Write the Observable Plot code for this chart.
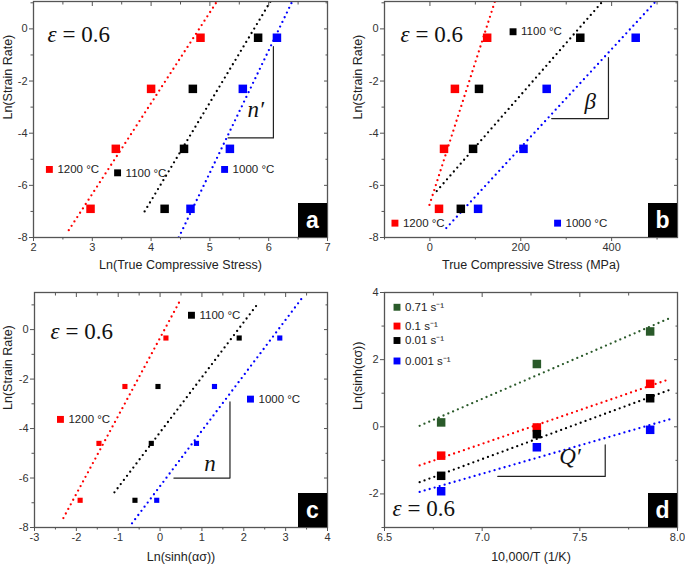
<!DOCTYPE html>
<html><head><meta charset="utf-8">
<script src="https://cdn.jsdelivr.net/npm/d3@7"></script>
<script src="https://cdn.jsdelivr.net/npm/@observablehq/plot@0.6"></script>
<style>
body{margin:0;background:#fff;}
#wrap{position:relative;width:685px;height:567px;overflow:hidden;}
.p{position:absolute;}
</style></head><body><div id="wrap"></div>
<script>
// ---------- data ----------
const tempLabels = ["1200 °C", "1100 °C", "1000 °C"];
const rateLabels = ["0.71 s⁻¹", "0.1 s⁻¹", "0.01 s⁻¹", "0.001 s⁻¹"];
const lnStrainRate = [-0.34, -2.3, -4.6, -6.9];

// panel a: Ln(true stress)
const aLnStress1200 = [4.84, 4.00, 3.40, 2.97];
const aLnStress1100 = [5.82, 4.71, 4.56, 4.23];
const aLnStress1000 = [6.14, 5.56, 5.34, 4.67];
const aFit1200 = [[2.60, -7.72], [5.12, 1.05]];
const aFit1100 = [[3.89, -7.00], [6.03, 1.05]];
const aFit1000 = [[4.47, -8.00], [6.40, 1.05]];

// panel b: true stress (MPa)
const bStress1200 = [126, 55, 31, 20];
const bStress1100 = [331, 108, 95, 68];
const bStress1000 = [453, 257, 206, 106];
const bFit1200 = [[-1, -6.75], [143, 1.05]];
const bFit1100 = [[15, -6.22], [380, 1.05]];
const bFit1000 = [[36, -7.64], [497, 1.05]];

// panel c: Ln(sinh(alpha*sigma))
const cLnSinh1200 = [0.14, -0.84, -1.46, -1.91];
const cLnSinh1100 = [1.89, -0.05, -0.21, -0.60];
const cLnSinh1000 = [2.86, 1.30, 0.87, -0.08];
const cFit1200 = [[-2.31, -7.62], [0.49, 1.21]];
const cFit1100 = [[-1.09, -6.58], [2.35, 1.08]];
const cFit1000 = [[-0.67, -7.83], [3.43, 1.36]];

// panel d: 10,000/T vs Ln(sinh(alpha*sigma))
const invT = [6.79, 7.28, 7.86];
const dRate071 = [0.13, 1.87, 2.84];
const dRate01 = [-0.86, -0.02, 1.28];
const dRate001 = [-1.46, -0.22, 0.85];
const dRate0001 = [-1.92, -0.61, -0.09];
const dFit071 = [[6.68, 0.03], [7.97, 3.26]];
const dFit01 = [[6.68, -1.15], [7.95, 1.40]];
const dFit001 = [[6.68, -1.65], [7.97, 1.12]];
const dFit0001 = [[6.68, -1.94], [7.97, 0.24]];

// ---------- styling ----------
const RED = "#ff0000", BLACK = "#000000", BLUE = "#0000ff", GREEN = "#2a5a2a";
const AX = "#555";
const SANS = "Liberation Sans, Arial, sans-serif";
const SERIF = "Liberation Serif, DejaVu Serif, serif";

const pts = (xs, ys) => xs.map((x, i) => ({x, y: ys[i]}));
const fit = (arr) => arr.map(([x, y]) => ({x, y}));

function dotted(arr, color) {
  return Plot.line(fit(arr), {x: "x", y: "y", stroke: color, strokeWidth: 2.3,
    strokeDasharray: "0,5.2", strokeLinecap: "round", clip: true});
}
function squares(xs, ys, color, r) {
  return Plot.dot(pts(xs, ys), {x: "x", y: "y", symbol: "square", fill: color, r, stroke: null});
}
function legendItem(x, y, color, label) {
  return [
    Plot.dot([{x, y}], {x: "x", y: "y", symbol: "square", fill: color, r: 3.9}),
    Plot.text([{x, y}], {x: "x", y: "y", text: () => label, dx: 8, textAnchor: "start",
      fontSize: 11.5, fontFamily: SANS, fill: "#222"})
  ];
}
function slope(ptsArr, label, lx, ly) {
  return [
    Plot.line(fit(ptsArr), {x: "x", y: "y", stroke: "#222", strokeWidth: 1.2}),
    Plot.text([{x: lx, y: ly}], {x: "x", y: "y", text: () => label, fontFamily: SERIF,
      fontStyle: "italic", fontSize: 23, fill: "#111"})
  ];
}
function epsilon(frameAnchor, dx, dy) {
  return [
    Plot.text(["ε"], {frameAnchor, dx, dy, text: d => d, textAnchor: "start", fontFamily: SERIF,
      fontStyle: "italic", fontSize: 23, fill: "#111"}),
    Plot.text(["= 0.6"], {frameAnchor, dx: dx + 15, dy, text: d => d, textAnchor: "start",
      fontFamily: SERIF, fontSize: 23, fill: "#111"})
  ];
}
function tag(letter) {
  return (index, scales, values, dims) => {
    const g = d3.create("svg:g");
    const x1 = dims.width - dims.marginRight, y1 = dims.height - dims.marginBottom;
    const w = 29, h = 34;
    g.append("rect").attr("x", x1 - w).attr("y", y1 - h).attr("width", w).attr("height", h).attr("fill", "#000");
    g.append("text").attr("x", x1 - w / 2).attr("y", y1 - h / 2).attr("dy", "0.36em")
      .attr("text-anchor", "middle").attr("fill", "#fff").attr("font-weight", "bold")
      .attr("font-size", 23).attr("font-family", SANS).text(letter);
    return g.node();
  };
}

function panel(o) {
  const blank = () => "";
  const fmt = o.xFormat || (d => d < 0 ? "-" + Math.abs(d) : String(d));
  const yfmt = d => d < 0 ? "-" + Math.abs(d) : String(d);
  const chart = Plot.plot({
    width: o.width, height: o.height,
    marginLeft: o.m[0], marginRight: o.m[1], marginTop: o.m[2], marginBottom: o.m[3],
    style: {fontFamily: SANS, fontSize: "11px", color: "#333", background: "#fff"},
    x: {domain: o.xDomain}, y: {domain: o.yDomain},
    marks: [
      ...o.marks,
      Plot.frame({stroke: AX, strokeWidth: 1.3}),
      Plot.axisX({ticks: o.xMajor, tickSize: 4, tickPadding: 2, tickFormat: fmt, label: null, stroke: AX, fontSize: 11}),
      Plot.axisX({ticks: o.xMinor, tickSize: 2.5, tickFormat: blank, label: null, stroke: AX}),
      Plot.axisX({anchor: "top", ticks: o.xMajor, tickSize: -4, tickFormat: blank, label: null, stroke: AX}),
      Plot.axisX({anchor: "top", ticks: o.xMinor, tickSize: -2.5, tickFormat: blank, label: null, stroke: AX}),
      Plot.axisY({ticks: o.yMajor, tickSize: 4, tickPadding: 2, tickFormat: yfmt, label: null, stroke: AX, fontSize: 11}),
      Plot.axisY({ticks: o.yMinor, tickSize: 2.5, tickFormat: blank, label: null, stroke: AX}),
      Plot.axisY({anchor: "right", ticks: o.yMajor, tickSize: -4, tickFormat: blank, label: null, stroke: AX}),
      Plot.axisY({anchor: "right", ticks: o.yMinor, tickSize: -2.5, tickFormat: blank, label: null, stroke: AX}),
      Plot.text([o.xLabel], {frameAnchor: "bottom", dy: o.xLabelDy, text: d => d, fontSize: 12.5, fontFamily: SANS, fill: "#222"}),
      Plot.text([o.yLabel], {frameAnchor: "left", dx: o.yLabelDx, rotate: -90, text: d => d, fontSize: 12.5, fontFamily: SANS, fill: "#222"}),
      tag(o.letter)
    ]
  });
  const div = document.createElement("div");
  div.className = "p";
  div.style.left = o.left + "px"; div.style.top = o.top + "px";
  div.appendChild(chart);
  document.getElementById("wrap").appendChild(div);
}

// ---------- panel a ----------
panel({
  left: 0, top: 0, width: 342, height: 283, m: [33, 15, 1, 46],
  xDomain: [2, 7], yDomain: [-8, 1.05],
  xMajor: [2, 3, 4, 5, 6, 7], xMinor: [2.5, 3.5, 4.5, 5.5, 6.5],
  yMajor: [-8, -6, -4, -2, 0], yMinor: [-7, -5, -3, -1, 1],
  xLabel: "Ln(True Compressive Stress)", yLabel: "Ln(Strain Rate)", xLabelDy: 31, yLabelDx: -26,
  letter: "a",
  marks: [
    dotted(aFit1200, RED), dotted(aFit1100, BLACK), dotted(aFit1000, BLUE),
    squares(aLnStress1200, lnStrainRate, RED, 4.8),
    squares(aLnStress1100, lnStrainRate, BLACK, 4.8),
    squares(aLnStress1000, lnStrainRate, BLUE, 4.8),
    ...slope([[5.31, -4.18], [6.08, -4.18], [6.08, -0.68]], "n′", 5.78, -3.1),
    ...legendItem(2.27, -5.39, RED, tempLabels[0]),
    ...legendItem(3.43, -5.52, BLACK, tempLabels[1]),
    ...legendItem(5.25, -5.39, BLUE, tempLabels[2]),
    ...epsilon("top-left", 14, 24)
  ]
});

// ---------- panel b ----------
panel({
  left: 342, top: 0, width: 343, height: 283, m: [42, 8, 1, 46],
  xDomain: [-100, 545], yDomain: [-8, 1.05],
  xMajor: [0, 200, 400], xMinor: [-100, 100, 300, 500],
  yMajor: [-8, -6, -4, -2, 0], yMinor: [-7, -5, -3, -1, 1],
  xLabel: "True Compressive Stress (MPa)", yLabel: "Ln(Strain Rate)", xLabelDy: 31, yLabelDx: -27,
  letter: "b",
  marks: [
    dotted(bFit1200, RED), dotted(bFit1100, BLACK), dotted(bFit1000, BLUE),
    squares(bStress1200, lnStrainRate, RED, 4.8),
    squares(bStress1100, lnStrainRate, BLACK, 4.8),
    squares(bStress1000, lnStrainRate, BLUE, 4.8),
    ...slope([[268, -3.44], [393, -3.44], [393, -1.1]], "β", 353, -2.8),
    ...legendItem(-77, -7.45, RED, tempLabels[0]),
    ...legendItem(183, -0.11, BLACK, tempLabels[1]),
    ...legendItem(281, -7.45, BLUE, tempLabels[2]),
    ...epsilon("top-left", 16, 24)
  ]
});

// ---------- panel c ----------
panel({
  left: 0, top: 283, width: 342, height: 284, m: [34, 15, 9, 40],
  xDomain: [-3, 4], yDomain: [-8, 1.5],
  xMajor: [-3, -2, -1, 0, 1, 2, 3, 4], xMinor: [-2.5, -1.5, -0.5, 0.5, 1.5, 2.5, 3.5],
  yMajor: [-8, -6, -4, -2, 0], yMinor: [-7, -5, -3, -1, 1],
  xLabel: "Ln(sinh(ασ))", yLabel: "Ln(Strain Rate)", xLabelDy: 33, yLabelDx: -27,
  letter: "c",
  marks: [
    dotted(cFit1200, RED), dotted(cFit1100, BLACK), dotted(cFit1000, BLUE),
    squares(cLnSinh1200, lnStrainRate, RED, 2.9),
    squares(cLnSinh1100, lnStrainRate, BLACK, 2.9),
    squares(cLnSinh1000, lnStrainRate, BLUE, 2.9),
    ...slope([[0.33, -6.0], [1.67, -6.0], [1.67, -2.92]], "n", 1.19, -5.4),
    ...legendItem(-2.38, -3.63, RED, tempLabels[0]),
    ...legendItem(0.75, 0.58, BLACK, tempLabels[1]),
    ...legendItem(2.16, -2.81, BLUE, tempLabels[2]),
    ...epsilon("top-left", 16, 30)
  ]
});

// ---------- panel d ----------
panel({
  left: 342, top: 283, width: 343, height: 284, m: [42, 8, 9, 40],
  xDomain: [6.5, 8], yDomain: [-3, 4],
  xMajor: [6.5, 7, 7.5, 8], xMinor: [6.75, 7.25, 7.75], xFormat: d => d.toFixed(1),
  yMajor: [-2, 0, 2, 4], yMinor: [-3, -1, 1, 3],
  xLabel: "10,000/T (1/K)", yLabel: "Ln(sinh(ασ))", xLabelDy: 33, yLabelDx: -27,
  letter: "d",
  marks: [
    dotted(dFit071, GREEN), dotted(dFit01, RED), dotted(dFit001, BLACK), dotted(dFit0001, BLUE),
    squares(invT, dRate071, GREEN, 4.8),
    squares(invT, dRate01, RED, 4.8),
    squares(invT, dRate001, BLACK, 4.8),
    squares(invT, dRate0001, BLUE, 4.8),
    ...slope([[7.08, -1.48], [7.63, -1.48], [7.63, -0.54]], "Q′", 7.45, -0.9),
    ...legendItem(6.564, 3.56, GREEN, rateLabels[0]),
    ...legendItem(6.564, 3.0, RED, rateLabels[1]),
    ...legendItem(6.564, 2.57, BLACK, rateLabels[2]),
    ...legendItem(6.564, 1.96, BLUE, rateLabels[3]),
    ...epsilon("bottom-left", 8, -12)
  ]
});
</script></body></html>
